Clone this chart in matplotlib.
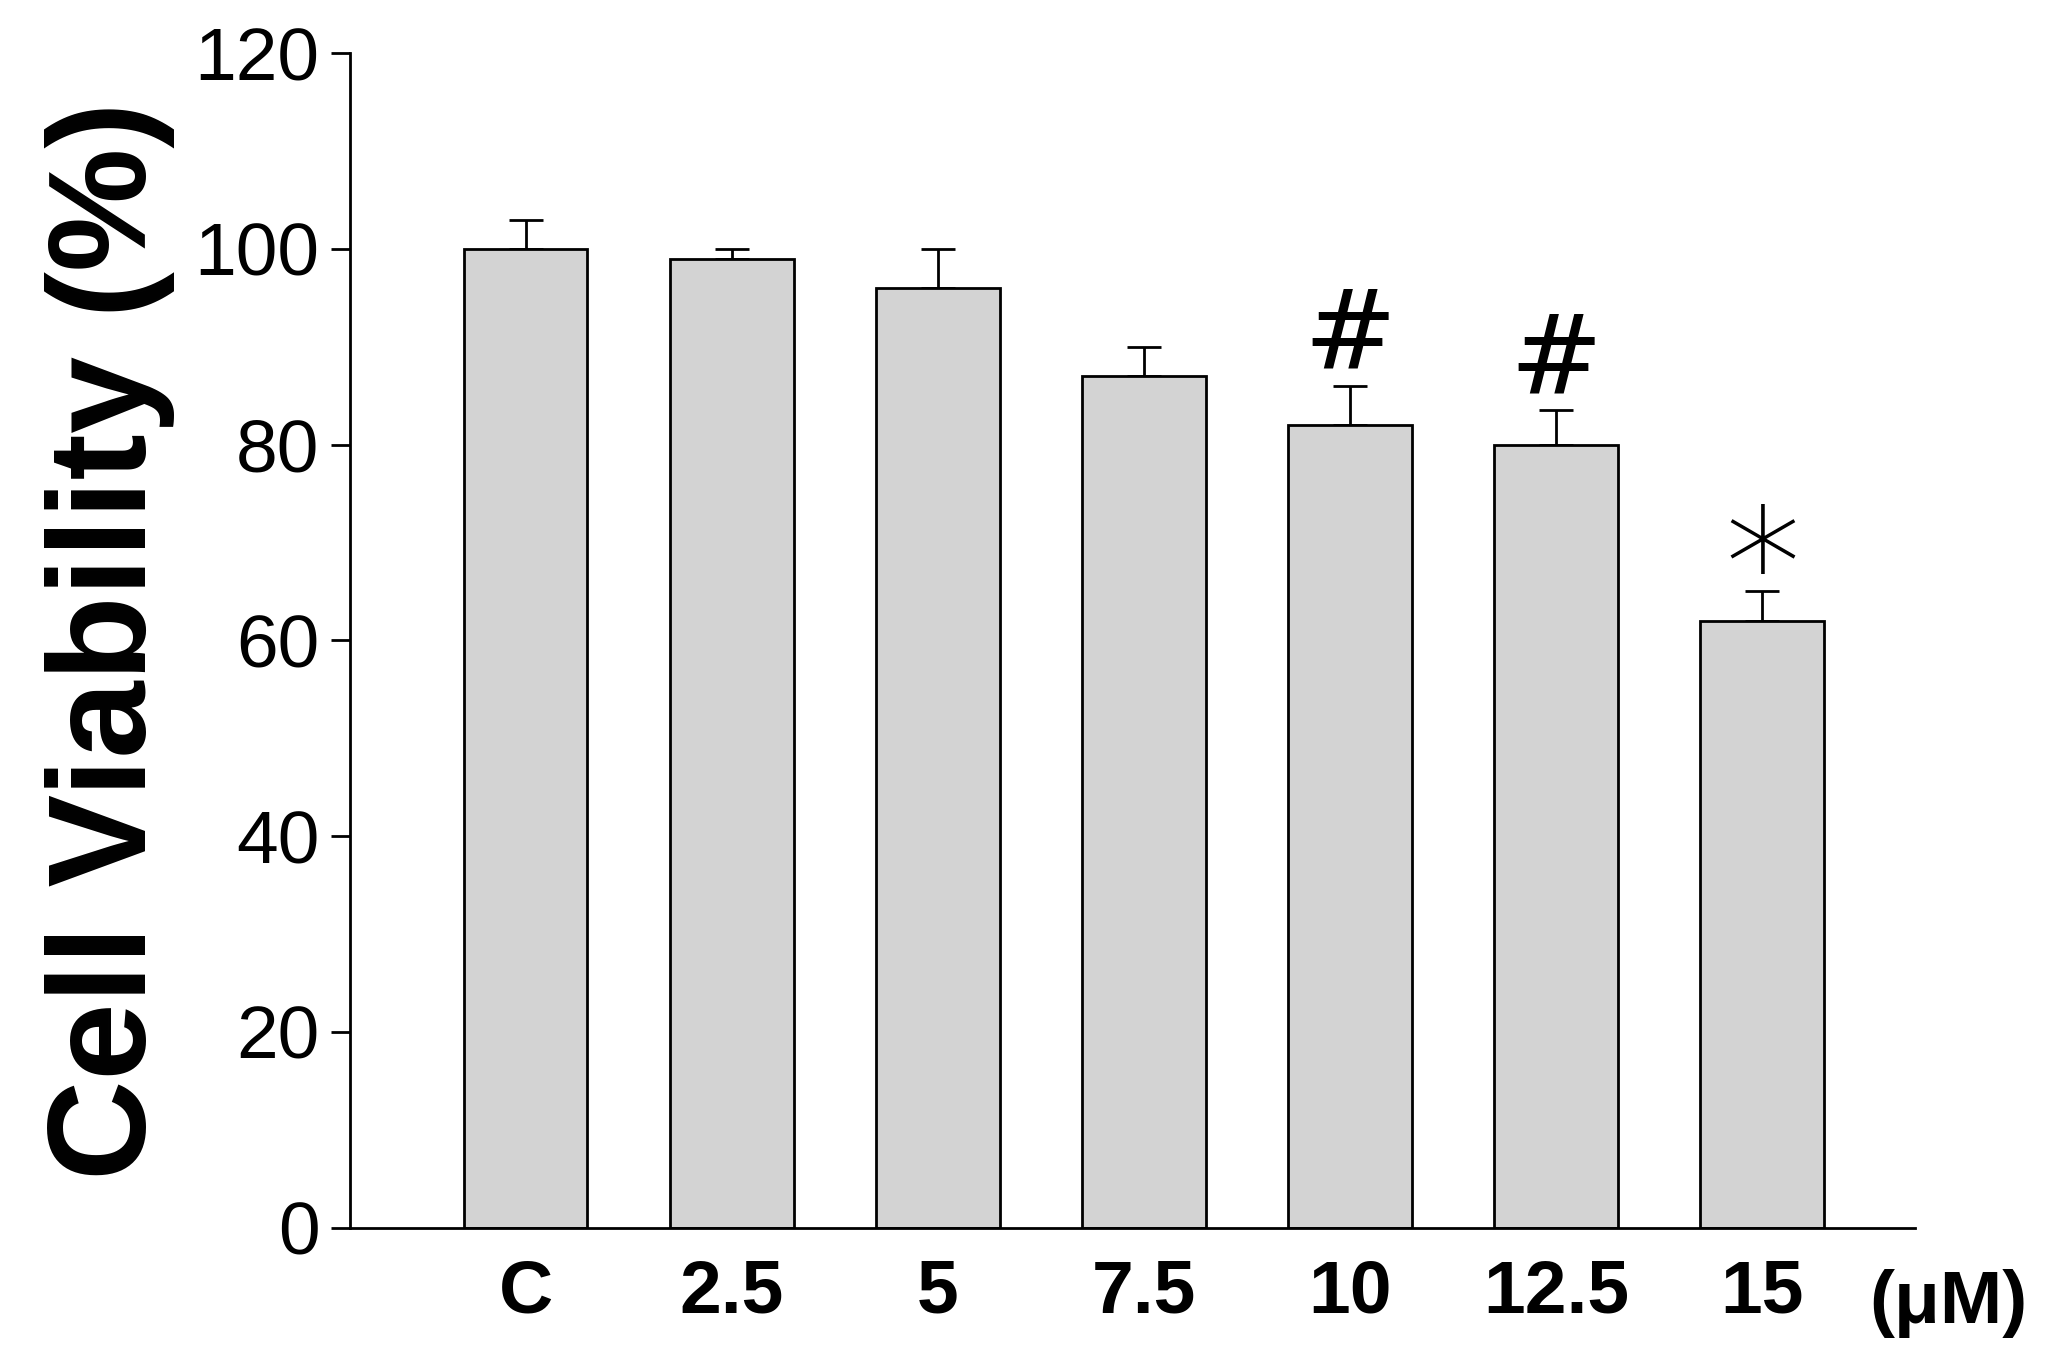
import matplotlib
matplotlib.use("Agg")
import matplotlib.pyplot as plt

categories = ["C", "2.5", "5", "7.5", "10", "12.5", "15"]
values = [100, 99, 96, 87, 82, 80, 62]
errors = [3, 1, 4, 3, 4, 3.5, 3]
marks = ["", "", "", "", "#", "#", "*"]

plt.rcParams['font.family'] = ['Liberation Sans', 'DejaVu Sans']
fig = plt.figure(figsize=(20.7, 13.64), dpi=100)
ax = fig.add_axes([0.169, 0.1, 0.756, 0.861])
x = list(range(len(categories)))
ax.bar(x, values, width=0.6, color="#d3d3d3", edgecolor="black", linewidth=2, zorder=2)
ax.errorbar(x, values, yerr=[[0]*len(errors), errors], fmt="none", ecolor="black",
            elinewidth=2, capsize=12, capthick=2, zorder=1)
for xi, v, e, m in zip(x, values, errors, marks):
    if m == "#":
        ax.text(xi, v + e - 0.5, m, ha="center", va="bottom", fontsize=80,
                family="DejaVu Serif")
    elif m == "*":
        ax.text(xi, v + e - 6, m, ha="center", va="bottom", fontsize=110,
                family="DejaVu Sans", fontweight="light")
ax.set_xlim(-0.853, 6.74)
ax.set_ylim(0, 120)
ax.set_yticks(range(0, 121, 20))
ax.tick_params(axis="y", labelsize=54, width=2, length=14, direction="out", pad=8)
ax.tick_params(axis="x", length=0, labelsize=54, pad=22)
ax.set_xticks(x)
ax.set_xticklabels(categories, fontweight="bold")
ax.text(6.52, -7.8, "(μM)", ha="left", va="center", fontsize=54, fontweight="bold", clip_on=False)
for s in ["top", "right"]:
    ax.spines[s].set_visible(False)
ax.spines["left"].set_linewidth(2)
ax.spines["bottom"].set_linewidth(2)
ax.set_ylabel("Cell Viability (%)", fontsize=100, fontweight="bold", labelpad=14)
fig.savefig("out.png", dpi=100)
